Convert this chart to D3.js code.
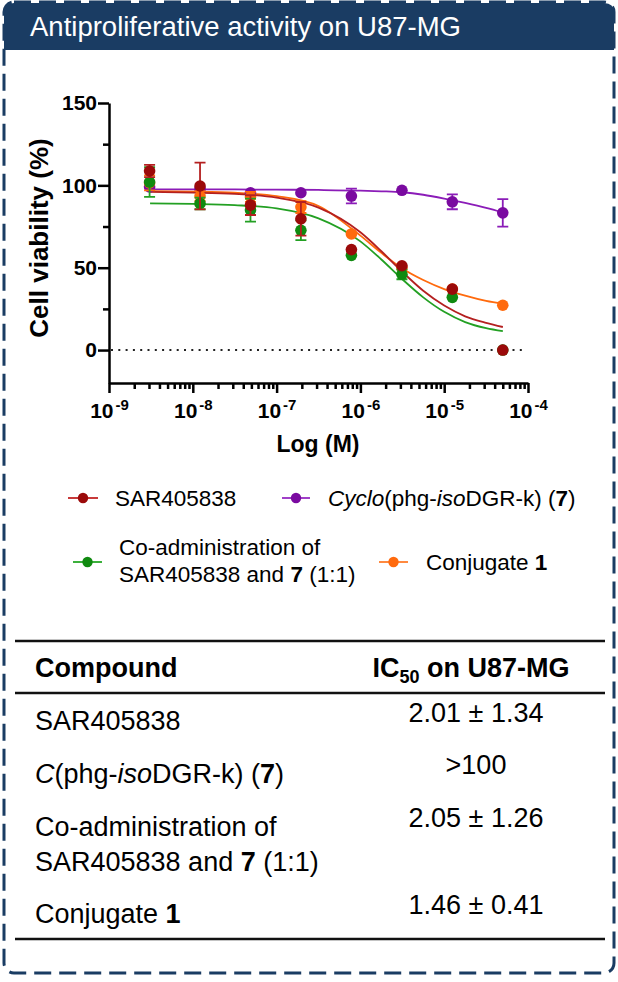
<!DOCTYPE html>
<html>
<head>
<meta charset="utf-8">
<script src="https://cdn.jsdelivr.net/npm/d3@7"></script>
<style>
  body { margin: 0; background: #fff; }
  svg { display: block; font-family: Arial, "Liberation Sans", sans-serif; }
</style>
</head>
<body>
<div id="chart"></div>
<script>
// concentrations (M)
const conc = [3.05e-9, 1.22e-8, 4.88e-8, 1.95e-7, 7.81e-7, 3.13e-6, 1.25e-5, 5.0e-5];

// mean cell viability (%) and error
const sarMean = [108.7, 99.6, 88.0, 79.7, 61.0, 51.2, 37.0, 0.0];
const sarErr = [3.7, 14.2, 6.0, 10.2, 0, 0, 0, 0];
const cycloMean = [99.0, 98.0, 95.5, 95.5, 93.5, 97.0, 90.0, 83.3];
const cycloErr = [0, 0, 0, 0, 4.5, 0, 4.5, 8.3];
const coMean = [102.0, 89.0, 85.0, 72.7, 57.5, 46.0, 32.0, 0.0];
const coErr = [9.0, 3.5, 7.0, 6.0, 0, 3.0, 0, 0];
const conjMean = [101.5, 93.5, 93.0, 86.8, 70.5, 50.0, 37.0, 27.2];
const conjErr = [4.5, 3.0, 3.0, 3.6, 0, 0, 0, 0];

// fitted curves (log10 M)
const fitLogX = [-8.51, -8, -7.5, -7, -6.5, -6, -5.75, -5.5, -5.25, -5, -4.75, -4.5, -4.3];
const sarFit = [96, 95.6, 94.8, 92.5, 86.5, 71.5, 60, 47.5, 36, 27, 20.5, 16.5, 14];
const cycloFit = [97.6, 97.6, 97.5, 97.4, 97.2, 96.8, 96.4, 95.8, 94.3, 92, 89.3, 86.3, 83.5];
const coFit = [89, 88.7, 88, 86, 80, 66, 55, 43, 32, 23.2, 17, 13.3, 11.5];
const conjFit = [96.5, 96.2, 95.5, 93.5, 87.5, 69.5, 59, 49.5, 42.5, 37, 33, 29.8, 28];

const xMajor = [1e-9, 1e-8, 1e-7, 1e-6, 1e-5, 1e-4];
const xExp = ["-9", "-8", "-7", "-6", "-5", "-4"];
const yMajor = [0, 50, 100, 150];
const yMinor = [25, 75, 125];

const ic50Values = ["2.01 \u00b1 1.34", ">100", "2.05 \u00b1 1.26", "1.46 \u00b1 0.41"];

const width = 618, height = 982;
const navy = "#1a3c63";

const svg = d3.select("#chart").append("svg")
  .attr("width", width)
  .attr("height", height);

// header banner
svg.append("path")
  .attr("d", "M4,50 L4,13 Q4,3 14,3 L604,3 Q614,3 614,13 L614,50 Z")
  .attr("fill", navy);

svg.append("text")
  .attr("x", 30)
  .attr("y", 36)
  .attr("fill", "#fff")
  .attr("font-size", 27.5)
  .text("Antiproliferative activity on U87-MG");

// dashed frame
svg.append("rect")
  .attr("x", 4).attr("y", 2)
  .attr("width", 610).attr("height", 971)
  .attr("rx", 10)
  .attr("fill", "none")
  .attr("stroke", navy)
  .attr("stroke-width", 3)
  .attr("stroke-dasharray", "17,8");

// scales
const x = d3.scaleLog()
  .domain([1e-9, 1e-4])
  .range([109, 528]);

const y = d3.scaleLinear()
  .domain([-20, 150])
  .range([383, 103]);

// y axis
const yAxis = svg.append("g")
  .attr("transform", "translate(109,0)")
  .call(d3.axisLeft(y).tickValues(yMajor).tickSize(11).tickSizeOuter(0).tickPadding(1));

svg.append("g")
  .attr("transform", "translate(109,0)")
  .call(d3.axisLeft(y).tickValues(yMinor).tickSize(6).tickSizeOuter(0).tickFormat(""))
  .call(g => g.select(".domain").remove());

// x axis
var minor = [];
for (let e = -9; e < -4; e++) {
  for (let m = 2; m <= 9; m++) minor.push(m * Math.pow(10, e));
}

const xAxis = svg.append("g")
  .attr("transform", "translate(0,383)")
  .call(d3.axisBottom(x).tickValues(xMajor).tickSize(10).tickSizeOuter(0).tickPadding(10).tickFormat(""));

svg.append("g")
  .attr("transform", "translate(0,383)")
  .call(d3.axisBottom(x).tickValues(minor).tickSize(6).tickSizeOuter(0).tickFormat(""))
  .call(g => g.select(".domain").remove());

xAxis.selectAll(".tick text").each(function (d, i) {
  const t = d3.select(this);
  t.append("tspan").text("10");
  t.append("tspan").attr("dx", 2).attr("dy", "-0.5em").attr("font-size", 15).text(xExp[i]);
});

svg.selectAll(".domain, .tick line")
  .attr("stroke", "#000")
  .attr("stroke-width", 2.5);

svg.selectAll(".tick text")
  .attr("font-size", 21)
  .attr("font-weight", "bold")
  .attr("font-family", "Arial, 'Liberation Sans', sans-serif")
  .attr("fill", "#000");

// axis titles
svg.append("text")
  .attr("transform", "translate(48,238) rotate(-90)")
  .attr("text-anchor", "middle")
  .attr("font-size", 26)
  .attr("font-weight", "bold")
  .text("Cell viability (%)");

svg.append("text")
  .attr("x", 318)
  .attr("y", 452)
  .attr("text-anchor", "middle")
  .attr("font-size", 23)
  .attr("font-weight", "bold")
  .text("Log (M)");

// zero line
svg.append("line")
  .attr("x1", x(1e-9) + 2)
  .attr("x2", 522)
  .attr("y1", y(0))
  .attr("y2", y(0))
  .attr("stroke", "#222")
  .attr("stroke-width", 2)
  .attr("stroke-dasharray", "2,5.3");

// series
const series = [
  { name: "cyclo", mean: cycloMean, err: cycloErr, fit: cycloFit, dot: "#7a0aa0", line: "#8b1cb8" },
  { name: "conj", mean: conjMean, err: conjErr, fit: conjFit, dot: "#ff6a0d", line: "#ff6a0d" },
  { name: "co", mean: coMean, err: coErr, fit: coFit, dot: "#108a10", line: "#23a023" },
  { name: "sar", mean: sarMean, err: sarErr, fit: sarFit, dot: "#9b0a0a", line: "#b42020" }
];

const line = d3.line()
  .x(d => x(Math.pow(10, d[0])))
  .y(d => y(d[1]))
  .curve(d3.curveMonotoneX);

series.forEach(s => {
  svg.append("path")
    .datum(fitLogX.map((lx, i) => [lx, s.fit[i]]))
    .attr("fill", "none")
    .attr("stroke", s.line)
    .attr("stroke-width", 1.8)
    .attr("d", line);
});

series.forEach(s => {
  const g = svg.append("g");
  const pts = conc.map((c, i) => ({ c: c, v: s.mean[i], e: s.err[i] }));
  const eb = pts.filter(d => d.e > 0);

  g.selectAll(".bar")
    .data(eb)
    .enter()
    .append("path")
    .attr("d", d => {
      const cx = x(d.c), y1 = y(d.v + d.e), y2 = y(d.v - d.e);
      return `M${cx},${y1}V${y2}M${cx - 5.5},${y1}H${cx + 5.5}M${cx - 5.5},${y2}H${cx + 5.5}`;
    })
    .attr("fill", "none")
    .attr("stroke", s.line)
    .attr("stroke-width", 1.8);

  g.selectAll("circle")
    .data(pts)
    .enter()
    .append("circle")
    .attr("cx", d => x(d.c))
    .attr("cy", d => y(d.v))
    .attr("r", 5.8)
    .attr("fill", s.dot);
});

// legend
function richText(sel, parts) {
  parts.forEach(p => {
    const t = sel.append("tspan").text(p.t);
    if (p.b) t.attr("font-weight", "bold");
    if (p.i) t.attr("font-style", "italic");
  });
}

function legendMark(x1, x2, cy, lineColor, dotColor) {
  svg.append("line")
    .attr("x1", x1).attr("x2", x2)
    .attr("y1", cy).attr("y2", cy)
    .attr("stroke", lineColor)
    .attr("stroke-width", 2);
  svg.append("circle")
    .attr("cx", (x1 + x2) / 2)
    .attr("cy", cy)
    .attr("r", 5.2)
    .attr("fill", dotColor);
}

legendMark(68, 98, 498, "#c83a3a", "#9b0a0a");
richText(svg.append("text").attr("x", 115).attr("y", 506).attr("font-size", 22.5),
  [{ t: "SAR405838" }]);

legendMark(282, 310, 498, "#a040c8", "#7a0aa0");
richText(svg.append("text").attr("x", 328).attr("y", 506).attr("font-size", 22.5),
  [{ t: "Cyclo", i: true }, { t: "(phg-" }, { t: "iso", i: true }, { t: "DGR-k) (" }, { t: "7", b: true }, { t: ")" }]);

legendMark(73, 102, 562, "#3cb03c", "#108a10");
richText(svg.append("text").attr("x", 119).attr("y", 555).attr("font-size", 22.5),
  [{ t: "Co-administration of" }]);
richText(svg.append("text").attr("x", 119).attr("y", 582).attr("font-size", 22.5),
  [{ t: "SAR405838 and " }, { t: "7", b: true }, { t: " (1:1)" }]);

legendMark(379, 408, 562, "#ff8a40", "#ff6a0d");
richText(svg.append("text").attr("x", 426).attr("y", 570).attr("font-size", 22.5),
  [{ t: "Conjugate " }, { t: "1", b: true }]);

// table
const rules = [641, 693, 939];
svg.selectAll(".rule")
  .data(rules)
  .enter()
  .append("line")
  .attr("x1", 15).attr("x2", 605)
  .attr("y1", d => d).attr("y2", d => d)
  .attr("stroke", "#111")
  .attr("stroke-width", 2.5);

svg.append("text")
  .attr("x", 35).attr("y", 677)
  .attr("font-size", 27)
  .attr("font-weight", "bold")
  .text("Compound");

const ich = svg.append("text")
  .attr("x", 471).attr("y", 677)
  .attr("text-anchor", "middle")
  .attr("font-size", 27)
  .attr("font-weight", "bold");
ich.append("tspan").text("IC");
ich.append("tspan").attr("font-size", 18).attr("dy", 6).text("50");
ich.append("tspan").attr("dy", -6).text(" on U87-MG");

const rowNames = [
  [[{ t: "SAR405838" }]],
  [[{ t: "C", i: true }, { t: "(phg-" }, { t: "iso", i: true }, { t: "DGR-k) (" }, { t: "7", b: true }, { t: ")" }]],
  [[{ t: "Co-administration of" }], [{ t: "SAR405838 and " }, { t: "7", b: true }, { t: " (1:1)" }]],
  [[{ t: "Conjugate " }, { t: "1", b: true }]]
];
const nameBaselines = [[730], [783], [836, 871], [923]];
const valueBaselines = [722, 774, 827, 914];

rowNames.forEach((lines, r) => {
  lines.forEach((parts, k) => {
    richText(svg.append("text").attr("x", 35).attr("y", nameBaselines[r][k]).attr("font-size", 27), parts);
  });
  svg.append("text")
    .attr("x", 476)
    .attr("y", valueBaselines[r])
    .attr("text-anchor", "middle")
    .attr("font-size", 27)
    .text(ic50Values[r]);
});
</script>
</body>
</html>
